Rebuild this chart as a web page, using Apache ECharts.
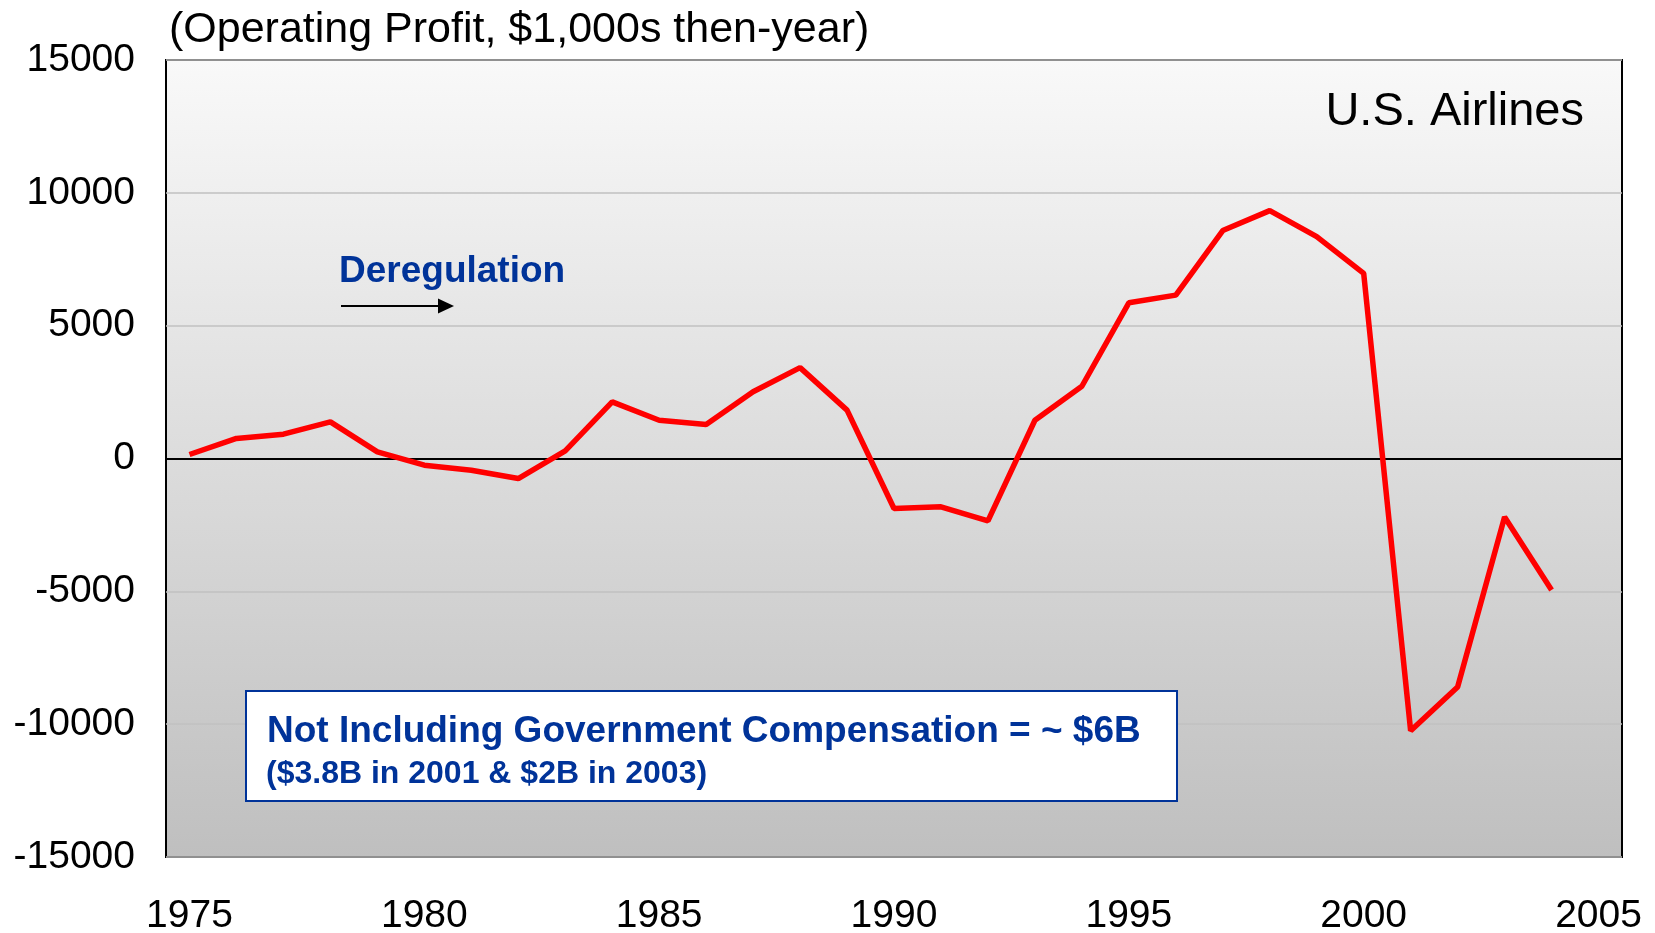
<!DOCTYPE html>
<html>
<head>
<meta charset="utf-8">
<script src="https://cdn.jsdelivr.net/npm/echarts@6/dist/echarts.min.js"></script>
<style>
html,body{margin:0;padding:0;background:#fff;}
#chart{width:1655px;height:933px;}
</style>
</head>
<body>
<div id="chart"></div>
<script>
var years = ['1975','1976','1977','1978','1979','1980','1981','1982','1983','1984','1985','1986','1987','1988','1989','1990','1991','1992','1993','1994','1995','1996','1997','1998','1999','2000','2001','2002','2003','2004','2005'];
var operatingProfit = [150, 755, 915, 1380, 250, -250, -440, -755, 290, 2130, 1440, 1280, 2510, 3420, 1820, -1880, -1820, -2350, 1440, 2720, 5860, 6150, 8580, 9330, 8350, 6970, -10250, -8600, -2200, -4950, null];
var yTicks = {min: -15000, max: 15000, interval: 5000};
var titleText = '(Operating Profit, $1,000s then-year)';
var seriesLabel = 'U.S. Airlines';
var noteText = 'Deregulation';
var boxLine1 = 'Not Including Government Compensation = ~ $6B';
var boxLine2 = '($3.8B in 2001 & $2B in 2003)';

var FONT = '"Liberation Sans", Arial, sans-serif';
var BLUE = '#003399';
var chart = echarts.init(document.getElementById('chart'), null, {renderer: 'canvas'});
chart.setOption({
  animation: false,
  grid: {
    left: 166, right: 33, top: 60, bottom: 76,
    outerBoundsMode: 'none',
    containLabel: false,
    show: true,
    borderColor: '#000', borderWidth: 2,
    backgroundColor: new echarts.graphic.LinearGradient(0, 0, 0, 1, [
      {offset: 0, color: '#f9f9f9'},
      {offset: 1, color: '#bfbfbf'}
    ])
  },
  xAxis: {
    type: 'category',
    data: years,
    boundaryGap: true,
    axisLine: {show: false, onZero: false},
    axisTick: {show: false},
    splitLine: {show: false},
    axisLabel: {
      interval: 4, margin: 40,
      color: '#000', fontSize: 39, fontFamily: FONT
    }
  },
  yAxis: {
    type: 'value',
    min: yTicks.min, max: yTicks.max, interval: yTicks.interval,
    axisLine: {show: false},
    axisTick: {show: false},
    splitLine: {show: true, lineStyle: {color: '#c0c0c0', width: 1.5}},
    axisLabel: {
      margin: 31, color: '#000', fontSize: 39, fontFamily: FONT,
      formatter: function (v) { return String(v); }
    }
  },
  series: [{
    name: seriesLabel,
    type: 'line',
    data: operatingProfit,
    symbol: 'none',
    lineStyle: {color: '#ff0000', width: 5.5},
    z: 5,
    markLine: {
      silent: true,
      symbol: ['none', 'none'],
      label: {show: false},
      lineStyle: {color: '#000', width: 2, type: 'solid'},
      data: [{yAxis: 0}],
      z: 3
    }
  }],
  graphic: [
    {type: 'text', left: 169, top: 9, style: {text: titleText, fontSize: 43, fontFamily: FONT, fill: '#000'}},
    {type: 'text', right: 71, top: 89, style: {text: seriesLabel, fontSize: 47, fontFamily: FONT, fill: '#000'}},
    {type: 'text', left: 339, top: 253, style: {text: noteText, fontSize: 37, fontWeight: 'bold', fontFamily: FONT, fill: BLUE}},
    {type: 'line', shape: {x1: 341, y1: 306, x2: 440, y2: 306}, style: {stroke: '#000', lineWidth: 2}},
    {type: 'polygon', shape: {points: [[438, 298.5], [454, 306], [438, 313.5]]}, style: {fill: '#000'}},
    {type: 'rect', shape: {x: 246, y: 691, width: 931, height: 110}, style: {fill: '#fff', stroke: BLUE, lineWidth: 2}, z: 10},
    {type: 'text', left: 267, top: 713, z: 11, style: {text: boxLine1, fontSize: 37, fontWeight: 'bold', fontFamily: FONT, fill: BLUE}},
    {type: 'text', left: 266, top: 758, z: 11, style: {text: boxLine2, fontSize: 32, fontWeight: 'bold', fontFamily: FONT, fill: BLUE}}
  ]
});
</script>
</body>
</html>
